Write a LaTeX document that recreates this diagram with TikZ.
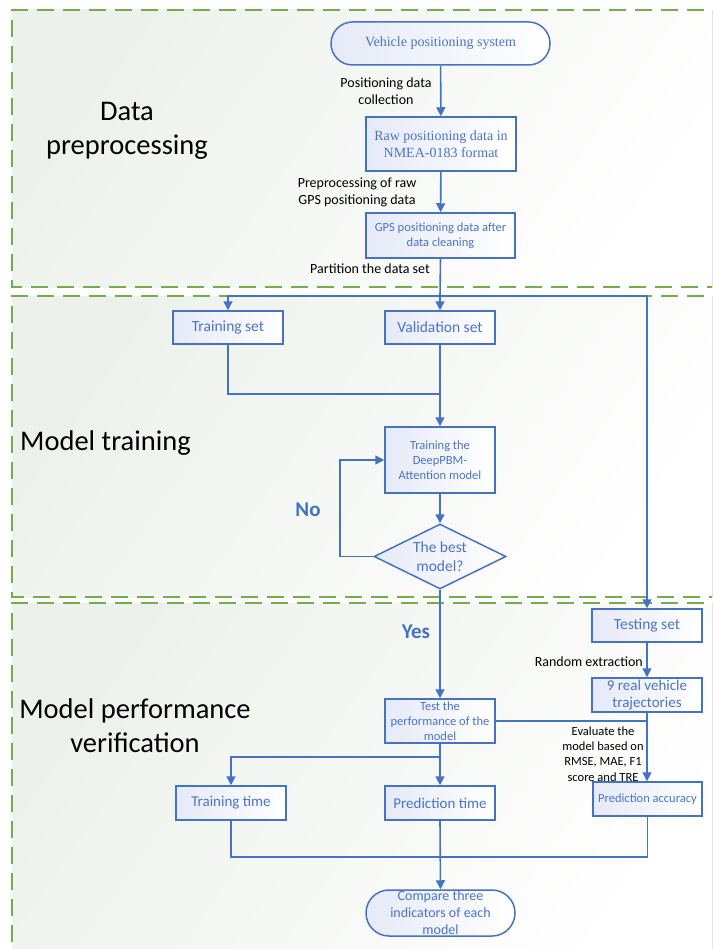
\documentclass[tikz,border=0pt]{standalone}
\usepackage{fontspec}
\setmainfont{Carlito}
\newfontfamily\timesf{Liberation Serif}
\usetikzlibrary{shapes.geometric,shapes.misc,arrows.meta}
\definecolor{lblue}{HTML}{4472C4}
\definecolor{tblue}{HTML}{4A74C6}
\definecolor{dgreen}{HTML}{72AE4C}
\definecolor{bgA}{HTML}{EDF1EB}
\definecolor{boxA}{HTML}{E6EAF7}
\begin{document}
\begin{tikzpicture}[x=1pt,y=-1pt,
  region/.style={left color=bgA,right color=white,shading angle=55,draw=none},
  rline/.style={draw=dgreen,line width=1.3pt,dash pattern=on 17pt off 9pt},
  box/.style={rectangle,draw=lblue,line width=1.5pt,left color=boxA,right color=white,inner sep=0pt,align=center,text=tblue,font=\fontsize{15.5}{18}\selectfont},
  smallbox/.style={box,font=\fontsize{12.5}{15}\selectfont},
  term/.style={rounded rectangle,draw=lblue,line width=1.5pt,left color=boxA,right color=white,inner sep=0pt,align=center,text=tblue},
  decide/.style={diamond,shape aspect=2,draw=lblue,line width=1.5pt,left color=boxA,right color=white,inner sep=0pt,align=center,text=tblue,font=\fontsize{15.5}{19}\selectfont},
  conn/.style={draw=lblue,line width=1.6pt},
  arrowed/.style={-{Triangle[length=9pt,width=9pt]}},
  lab/.style={align=center,text=black,inner sep=0pt,font=\fontsize{14}{17}\selectfont},
  yn/.style={text=lblue,inner sep=0pt,font=\fontsize{21}{24}\bfseries\selectfont},
  big/.style={align=center,text=black,inner sep=0pt,font=\fontsize{28.5}{34}\selectfont}
]
\useasboundingbox (0,0) rectangle (712,949);
\clip (0,0) rectangle (712,949);
\fill[white] (0,0) rectangle (712,949);
% regions
\fill[region] (12,10) rectangle (730,287);
\fill[region] (12,296) rectangle (730,597);
\fill[region] (12,603) rectangle (730,960);
\draw[rline] (730,10) -- (12,10) -- (12,287) -- (730,287);
\draw[rline] (730,296) -- (12,296) -- (12,597) -- (730,597);
\draw[rline] (730,603) -- (12,603) -- (12,960);
% section labels
\node[big] (secA) at (127,130.5) {Data\\preprocessing};
\node[big,anchor=west] (secB) at (20,443) {Model training};
\node[big] (secC) at (135,726) {Model performance\\verification};
% nodes
\node[term,minimum width=219pt,minimum height=43pt,font=\timesf\fontsize{14}{17}\selectfont] (vps) at (440.5,43.5) {Vehicle positioning system};
\node[box,minimum width=150pt,minimum height=54pt,font=\timesf\fontsize{14}{17}\selectfont] (raw) at (441,144) {Raw positioning data in\\NMEA-0183 format};
\node[smallbox,minimum width=149pt,minimum height=45pt] (gps) at (440.5,235.5) {GPS positioning data after\\data cleaning};
\node[box,minimum width=110pt,minimum height=33pt] (trs) at (228,327.5) {Training set};
\node[box,minimum width=110pt,minimum height=33pt] (val) at (440,327.5) {Validation set};
\node[smallbox,minimum width=110pt,minimum height=66pt] (dpb) at (440,460) {Training the\\DeepPBM-\\Attention model};
\node[decide,minimum width=132pt,minimum height=65pt] (dia) at (440,556.5) {The best\\model?};
\node[box,minimum width=110pt,minimum height=33pt] (tst) at (647,625.5) {Testing set};
\node[box,minimum width=110pt,minimum height=34pt,font=\fontsize{15}{17}\selectfont] (nine) at (647,695) {9 real vehicle\\trajectories};
\node[smallbox,minimum width=110pt,minimum height=44pt] (tperf) at (440,721) {Test the\\performance of the\\model};
\node[box,minimum width=110pt,minimum height=34pt,font=\fontsize{15}{17}\selectfont] (ttime) at (231,803) {Training time};
\node[box,minimum width=110pt,minimum height=34pt,font=\fontsize{15}{17}\selectfont] (ptime) at (440,803) {Prediction time};
\node[smallbox,minimum width=109pt,minimum height=34pt] (pacc) at (647.5,799) {Prediction accuracy};
\node[term,minimum width=149pt,minimum height=46pt] (cmp) at (440.5,913) {};
\node[lab,text=tblue] (cmptext) at (cmp.center) {Compare three\\indicators of each\\model};
% connectors
\coordinate (split) at (440,296);
\coordinate (merge) at (440,394);
\coordinate (split2) at (440,757);
\coordinate (join) at (440,857);
\draw[conn,arrowed] (vps) -- (raw);
\draw[conn,arrowed] (raw) -- (gps);
\draw[conn] (gps.south) -- (split);
\draw[conn,arrowed] (split) -| (trs.north);
\draw[conn,arrowed] (split) -- (val.north);
\draw[conn,arrowed] (split) -| (tst.north);
\draw[conn] (trs.south) |- (merge);
\draw[conn,arrowed] (val.south) -- (dpb.north);
\draw[conn,arrowed] (dpb) -- (dia);
\draw[conn,arrowed] (dia.west) -- ++(-33,0) |- (dpb.west);
\draw[conn,arrowed] (dia.south) -- (tperf.north);
\draw[conn,arrowed] (tst) -- (nine);
\draw[conn,arrowed] (nine.south) -- (nine.south |- pacc.north);
\draw[conn] (tperf.east) -- (tperf.east -| nine.south);
\draw[conn,arrowed] (tperf.south) -- (ptime.north);
\draw[conn,arrowed] (split2) -| (ttime.north);
\draw[conn] (ttime.south) |- (join);
\draw[conn] (pacc.south) |- (join);
\draw[conn,arrowed] (ptime.south) -- (cmp.north);
% edge labels
\node[lab] (l1) at (386,91.5) {Positioning data\\collection};
\node[lab] (l2) at (357,192.5) {Preprocessing of raw\\GPS positioning data};
\node[lab] (l3) at (370,269) {Partition the data set};
\node[lab,anchor=east] (l4) at (643,662) {Random extraction};
\node[lab,font=\fontsize{12.5}{15.3}\selectfont] (l5) at (603,754) {Evaluate the\\model based on\\RMSE, MAE, F1\\score and TRE};
\node[yn] (no) at (308,510) {No};
\node[yn] (yes) at (416,632) {Yes};
\end{tikzpicture}
\end{document}
